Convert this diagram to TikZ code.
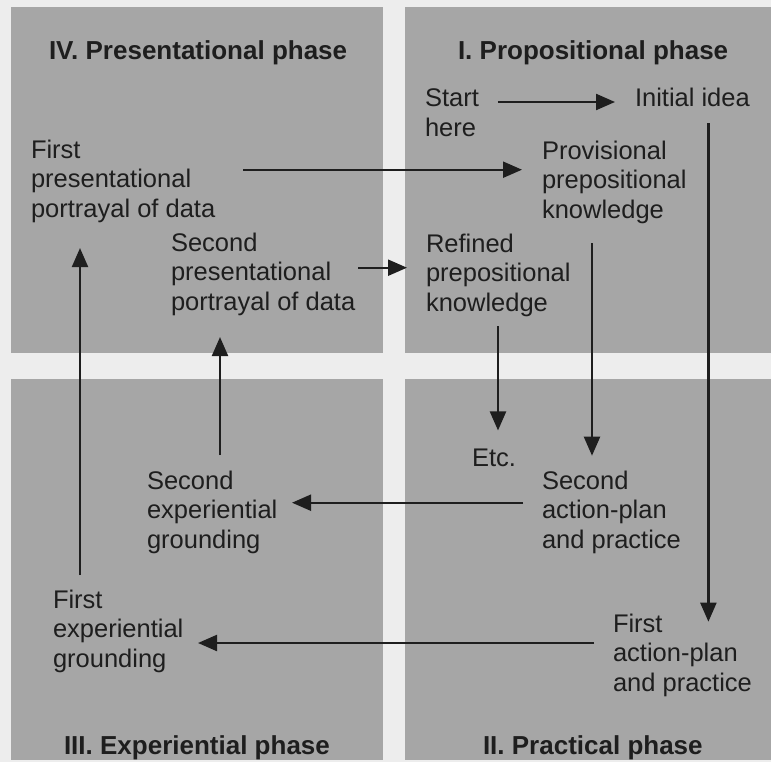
\documentclass[tikz,border=0pt]{standalone}
\usepackage{fontspec}
\setmainfont{Liberation Sans}
\usetikzlibrary{arrows.meta,calc}
\definecolor{paper}{HTML}{EDEDED}
\definecolor{panel}{HTML}{A6A6A6}
\definecolor{ink}{HTML}{1E1E1E}
\begin{document}
\begin{tikzpicture}[x=1pt,y=-1pt,
  txt/.style={anchor=north west,inner sep=0pt,outer sep=0pt,align=left,text=ink,
    font=\fontsize{25.5}{29.5}\selectfont},
  one/.style={anchor=base west,inner sep=0pt,outer sep=0pt,text=ink,
    font=\fontsize{25.5}{29.5}\selectfont},
  ttl/.style={anchor=base west,inner sep=0pt,outer sep=0pt,text=ink,
    font=\bfseries\fontsize{26}{30}\selectfont},
  arr/.style={draw=ink,line width=2.2pt,-{Triangle[length=19pt,width=16pt]}}]

% paper and the four phase panels
\fill[paper] (0,0) rectangle (771,762);
\useasboundingbox (0,0) rectangle (771,762);
\fill[panel] (11,7) rectangle (383,353);
\fill[panel] (405,7) rectangle (771,353);
\fill[panel] (11,379) rectangle (383,760);
\fill[panel] (405,379) rectangle (771,760);

% phase titles
\node[ttl] (t4) at (49,60)  {IV. Presentational phase};
\node[ttl] (t1) at (458,60) {I. Propositional phase};
\node[ttl] (t3) at (64,754) {III. Experiential phase};
\node[ttl] (t2) at (483,754) {II. Practical phase};

% stages of the cycle
\node[txt] (start) at (425,88.7)  {Start\\here};
\node[one] (init)  at (635,107)   {Initial idea};
\node[txt] (fpres) at (31,139.7)  {First\\presentational\\portrayal of data};
\node[txt] (prov)  at (542,140.7) {Provisional\\prepositional\\knowledge};
\node[txt] (spres) at (171,232.7) {Second\\presentational\\portrayal of data};
\node[txt] (refn)  at (426,233.7) {Refined\\prepositional\\knowledge};
\node[one] (etc)   at (472,466)   {Etc.};
\node[txt] (sact)  at (542,470.7) {Second\\action-plan\\and practice};
\node[txt] (sexp)  at (147,470.7) {Second\\experiential\\grounding};
\node[txt] (fexp)  at (53,589.7)  {First\\experiential\\grounding};
\node[txt] (fact)  at (613,613.7) {First\\action-plan\\and practice};

% transitions between stages
\draw[arr] ($(start.east |- init.base west)+(19,-5)$) -- ($(init.base west)+(-20,-5)$);
\draw[arr] ($(fpres.north east |- prov.north west)+(28,29)$) -- ($(prov.north west)+(-20,29)$);
\draw[arr] ($(spres.east |- refn.north west)+(3,34)$) -- ($(refn.north west)+(-19,34)$);
\coordinate (vx) at ($(init.south)+(16,0)$);
\draw[arr] ($(vx)+(0,16)$) -- ($(vx |- fact.north)+(0,8)$);
\draw[arr] ($(prov.south west)+(50,20)$) -- ($(prov.south west |- sact.north west)+(50,-15)$);
\draw[arr] ($(refn.south west)+(72,10)$) -- ($(refn.south west |- etc.north)+(72,-18)$);
\draw[arr] ($(sact.north west)+(-19,32)$) -- ($(sexp.north east |- sact.north west)+(14.6,32)$);
\draw[arr] ($(sexp.north west)+(73,-15.7)$) -- ($(sexp.north west |- spres.south west)+(73,21.6)$);
\draw[arr] ($(fexp.north west)+(27,-14.7)$) -- ($(fexp.north west |- fpres.south west)+(27,25.6)$);
\draw[arr] ($(fact.north west)+(-19,29.3)$) -- ($(fexp.north east |- fact.north west)+(14.6,29.3)$);
\end{tikzpicture}
\end{document}
